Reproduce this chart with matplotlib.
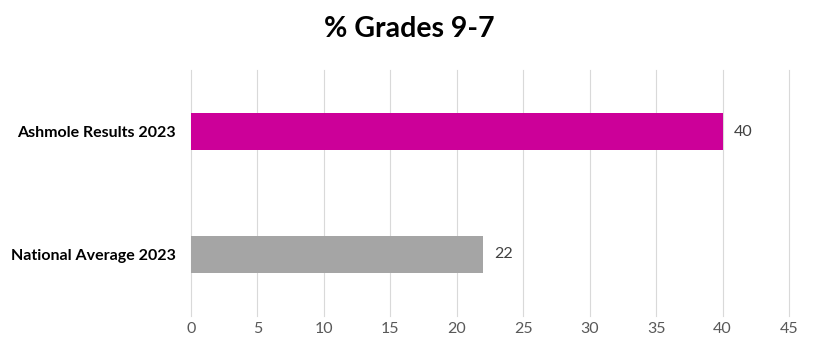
import matplotlib.pyplot as plt

# Chart data
categories = ["Ashmole Results 2023", "National Average 2023"]
values = [40, 22]
bar_colors = ["#CC0099", "#A5A5A5"]
x_ticks = [0, 5, 10, 15, 20, 25, 30, 35, 40, 45]

plt.rcParams['font.family'] = ['Lato', 'DejaVu Sans']

fig = plt.figure(figsize=(8.18, 3.57), dpi=100)
ax = fig.add_axes([191 / 818, 41 / 357, 598 / 818, 246 / 357])

# first category on top
ypos = list(range(len(categories)))
ax.barh(ypos, values, height=0.30, color=bar_colors, zorder=3)
ax.set_ylim(len(categories) - 0.5, -0.5)
ax.set_xlim(0, 45)
ax.set_xticks(x_ticks)
ax.set_yticks(ypos)
ax.set_yticklabels(categories, fontsize=11.5, fontweight='bold', color='black')

# value labels
for y, v in zip(ypos, values):
    ax.text(v + 0.85, y, str(v), va='center', ha='left', fontsize=11.5, color='#404040')

ax.grid(axis='x', color='#D9D9D9', linewidth=0.8, zorder=0)
for gl in ax.get_xgridlines():
    gl.set_clip_on(False)
for s in ax.spines.values():
    s.set_visible(False)
ax.tick_params(axis='both', length=0)
ax.tick_params(axis='x', labelsize=11.5, labelcolor='#595959', pad=4)
ax.tick_params(axis='y', pad=11)

fig.text(0.5, 1 - 29 / 357, "% Grades 9-7", ha='center', va='center',
         fontsize=20.5, fontweight='bold')

fig.savefig("out.png", dpi=100)
